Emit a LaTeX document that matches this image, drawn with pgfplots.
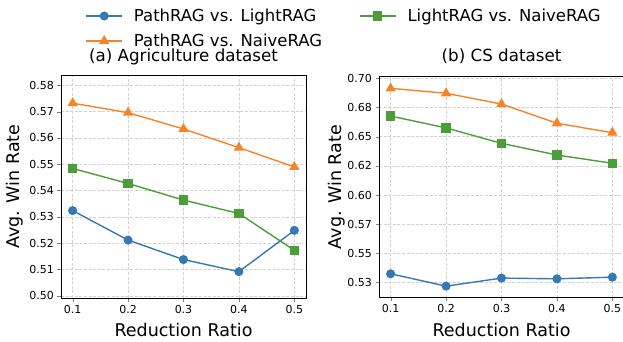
\documentclass[border=0pt]{standalone}
\usepackage{fontspec}
\setmainfont{DejaVu Sans}
\usepackage{pgfplots}
\pgfplotsset{compat=1.18}
\definecolor{cblue}{RGB}{52,120,182}
\definecolor{corange}{RGB}{246,132,38}
\definecolor{cgreen}{RGB}{76,158,58}
\pgfplotsset{
  myaxis/.style={
    scale only axis,
    width=245pt,
    /pgf/number format/assume math mode=true,
    tick label style={font=\fontsize{11}{13}\selectfont},
    label style={font=\fontsize{17.5}{20}\selectfont},
    title style={font=\fontsize{16.7}{19}\selectfont, anchor=base, yshift=0pt},
    tick align=outside,
    major tick length=3.5pt,
    xtick pos=bottom, ytick pos=left,
    axis line style={black, line width=0.8pt},
    grid=major,
    major grid style={gray!35, dash pattern=on 3pt off 1.6pt, line width=0.5pt},
    xtick={0.1,0.2,0.3,0.4,0.5},
    xticklabel style={/pgf/number format/.cd, fixed, fixed zerofill, precision=1},
    xmin=0.079, xmax=0.521,
    xlabel={Reduction Ratio},
    ylabel={Avg. Win Rate},
    every axis plot/.append style={line width=1.4pt},
  },
  sblue/.style={color=cblue, mark=*, mark size=3.8pt},
  sgreen/.style={color=cgreen, mark=square*, mark size=3.9pt},
  sorange/.style={color=corange, mark=triangle*, mark size=4.6pt},
}
\begin{document}
\begin{tikzpicture}
\begin{axis}[myaxis,
  at={(61pt,-298pt)}, anchor=south west,
  height=223pt,
  ymin=0.4992, ymax=0.5839,
  ytick={0.50,0.51,...,0.581},
  yticklabel style={/pgf/number format/.cd, fixed, fixed zerofill, precision=2},
  y label style={at={(axis description cs:-0.188,0.5)}, anchor=center},
  x label style={at={(axis description cs:0.5,-0.1435)}, anchor=center},
  title={(a) Agriculture dataset},
  title style={at={(0.5,1.034)}},
  legend columns=2,
  legend cell align=left,
  legend style={draw=none, fill=none, font=\fontsize{16.5}{19}\selectfont,
    at={(axis description cs:0.087,1.315)}, anchor=north west,
    row sep=7pt,
    /tikz/every odd column/.append style={column sep=9pt},
    /tikz/every even column/.append style={column sep=35pt}},
  legend image code/.code={\draw[line width=1.4pt, mark repeat=2, mark phase=2] plot coordinates {(0pt,0pt) (18pt,0pt) (36pt,0pt)};},
]
\addplot[sblue] coordinates {(0.1,0.5324) (0.2,0.5212) (0.3,0.5138) (0.4,0.5092) (0.5,0.5249)};
\addlegendentry{PathRAG vs. LightRAG}
\addplot[sgreen] coordinates {(0.1,0.5484) (0.2,0.5427) (0.3,0.5364) (0.4,0.5313) (0.5,0.5173)};
\addlegendentry{LightRAG vs. NaiveRAG}
\addplot[sorange] coordinates {(0.1,0.5732) (0.2,0.5696) (0.3,0.5634) (0.4,0.5563) (0.5,0.5490)};
\addlegendentry{PathRAG vs. NaiveRAG}
\end{axis}
\begin{axis}[myaxis,
  at={(379pt,-297.7pt)}, anchor=south west,
  height=221pt,
  ymin=0.512, ymax=0.7014,
  ytick={0.525,0.55,0.575,0.6,0.625,0.65,0.675,0.7},
  yticklabels={0.53,0.55,0.57,0.60,0.62,0.65,0.68,0.70},
  y label style={at={(axis description cs:-0.173,0.5)}, anchor=center},
  x label style={at={(axis description cs:0.5,-0.146)}, anchor=center},
  title={(b) CS dataset},
  title style={at={(0.5,1.042)}},
]
\addplot[sblue] coordinates {(0.1,0.5325) (0.2,0.5219) (0.3,0.5288) (0.4,0.5282) (0.5,0.5296)};
\addplot[sgreen] coordinates {(0.1,0.6677) (0.2,0.6575) (0.3,0.6443) (0.4,0.6343) (0.5,0.6272)};
\addplot[sorange] coordinates {(0.1,0.6914) (0.2,0.6872) (0.3,0.6780) (0.4,0.6615) (0.5,0.6534)};
\end{axis}
\pgfresetboundingbox
\path (0pt,0pt) rectangle (623pt,-341pt);
\end{tikzpicture}
\end{document}
